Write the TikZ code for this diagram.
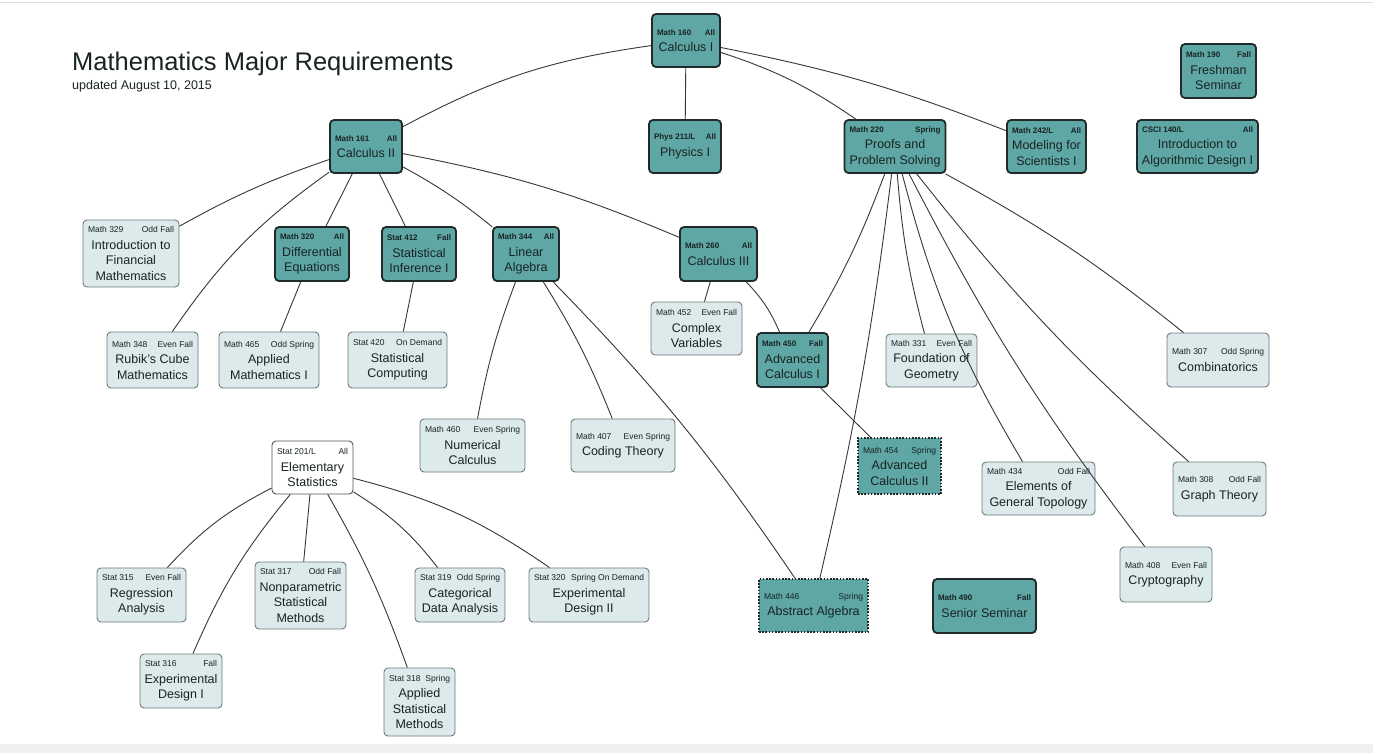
\documentclass[tikz,border=0pt]{standalone}
\usepackage{fontspec}
\setmainfont{Liberation Sans}
\definecolor{teal1}{RGB}{94,167,165}
\definecolor{tealedge}{RGB}{32,42,42}
\definecolor{lightfill}{RGB}{220,234,236}
\definecolor{lightedge}{RGB}{110,122,124}
\definecolor{linkc}{RGB}{55,55,55}
\definecolor{txt}{RGB}{25,35,35}
\newcommand{\hdb}[2]{{\fontsize{8}{9}\selectfont\bfseries\hbox to\dimexpr\pgfshapeminwidth-10pt\relax{#1\hfil#2}}\\[1pt]}
\newcommand{\hdr}[2]{{\fontsize{8.5}{9}\selectfont\hbox to\dimexpr\pgfshapeminwidth-10pt\relax{#1\hfil#2}}\\[1pt]}
\begin{document}
\begin{tikzpicture}[x=1pt,y=-1pt,
  box/.style={rounded corners=4pt,align=center,inner xsep=3pt,inner ysep=2pt,
    font=\fontsize{12.5}{15.5}\selectfont,text=txt},
  req/.style={box,fill=teal1,draw=tealedge,line width=1.8pt},
  opt/.style={box,fill=lightfill,draw=lightedge,line width=0.9pt},
  wht/.style={box,fill=white,draw=lightedge!70!black,line width=0.9pt},
  dot/.style={box,fill=teal1,draw=tealedge,line width=1.6pt,dash pattern=on 1.6pt off 1.6pt,rounded corners=0pt},
  link/.style={draw=linkc,line width=0.9pt}]
\useasboundingbox (0,0) rectangle (1373,753);
\fill[white] (0,0) rectangle (1373,753);
\draw[gray!25,line width=1pt] (0,2.5) -- (1373,2.5);
\fill[gray!12] (0,744) rectangle (1373,753);
\node[anchor=base west,inner sep=0pt,font=\fontsize{25.5}{28}\selectfont,text=txt] (title) at (72,70) {Mathematics Major Requirements};
\node[anchor=base west,inner sep=0pt,font=\fontsize{12.5}{14}\selectfont,text=txt] (upd) at (72,89) {updated August 10, 2015};
% nodes
\node[req,minimum width=68pt,minimum height=53pt] (calcI) at (686,40.5) {\hdb{Math 160}{All}Calculus I};
\node[req,minimum width=72pt,minimum height=53pt] (calcII) at (366,146.5) {\hdb{Math 161}{All}Calculus II};
\node[req,minimum width=72pt,minimum height=53pt] (phys) at (685,146.5) {\hdb{Phys 211/L}{All}Physics I};
\node[req,minimum width=101pt,minimum height=53pt] (proofs) at (895,146.5) {\hdb{Math 220}{Spring}Proofs and\\Problem Solving};
\node[req,minimum width=79pt,minimum height=53pt] (model) at (1046.5,146.5) {\hdb{Math 242/L}{All}Modeling for\\Scientists I};
\node[req,minimum width=121pt,minimum height=53pt] (csci) at (1197.5,146.5) {\hdb{CSCI 140/L}{All}Introduction to\\Algorithmic Design I};
\node[req,minimum width=75pt,minimum height=54pt] (fresh) at (1218.5,71) {\hdb{Math 190}{Fall}Freshman\\Seminar};
\node[opt,minimum width=96pt,minimum height=67pt] (m329) at (131,253.5) {\hdr{Math 329}{Odd Fall}Introduction to\\Financial\\Mathematics};
\node[req,minimum width=74pt,minimum height=54pt] (m320) at (312,254) {\hdb{Math 320}{All}Differential\\Equations};
\node[req,minimum width=74pt,minimum height=54pt] (s412) at (419,254) {\hdb{Stat 412}{Fall}Statistical\\Inference I};
\node[req,minimum width=66pt,minimum height=54pt] (m344) at (526,254) {\hdb{Math 344}{All}Linear\\Algebra};
\node[req,minimum width=77pt,minimum height=54pt] (m260) at (718.5,254) {\hdb{Math 260}{All}Calculus III};
\node[opt,minimum width=91pt,minimum height=53pt] (m452) at (696.5,328.5) {\hdr{Math 452}{Even Fall}Complex\\Variables};
\node[req,minimum width=71pt,minimum height=54pt] (m450) at (792.5,360) {\hdb{Math 450}{Fall}Advanced\\Calculus I};
\node[opt,minimum width=91pt,minimum height=53pt] (m331) at (931.5,360.5) {\hdr{Math 331}{Even Fall}Foundation of\\Geometry};
\node[opt,minimum width=102pt,minimum height=54pt] (m307) at (1218,360) {\hdr{Math 307}{Odd Spring}Combinatorics};
\node[opt,minimum width=91pt,minimum height=56pt] (m348) at (152.5,360) {\hdr{Math 348}{Even Fall}Rubik's Cube\\Mathematics};
\node[opt,minimum width=100pt,minimum height=56pt] (m465) at (269,360) {\hdr{Math 465}{Odd Spring}Applied\\Mathematics I};
\node[opt,minimum width=99pt,minimum height=56pt] (s420) at (397.5,360) {\hdr{Stat 420}{On Demand}Statistical\\Computing};
\node[opt,minimum width=105pt,minimum height=53pt] (m460) at (472.5,445.5) {\hdr{Math 460}{Even Spring}Numerical\\Calculus};
\node[opt,minimum width=104pt,minimum height=53pt] (m407) at (623,445.5) {\hdr{Math 407}{Even Spring}Coding Theory};
\node[wht,minimum width=81pt,minimum height=53pt] (s201) at (312.5,467.5) {\hdr{Stat 201/L}{All}Elementary\\Statistics};
\node[dot,minimum width=83pt,minimum height=56pt] (m454) at (899.5,466) {\hdr{Math 454}{Spring}Advanced\\Calculus II};
\node[opt,minimum width=113pt,minimum height=53pt] (m434) at (1038.5,488.5) {\hdr{Math 434}{Odd Fall}Elements of\\General Topology};
\node[opt,minimum width=93pt,minimum height=54pt] (m308) at (1219.5,489) {\hdr{Math 308}{Odd Fall}Graph Theory};
\node[opt,minimum width=92pt,minimum height=55pt] (m408) at (1166,574.5) {\hdr{Math 408}{Even Fall}Cryptography};
\node[opt,minimum width=89pt,minimum height=54pt] (s315) at (141.5,595) {\hdr{Stat 315}{Even Fall}Regression\\Analysis};
\node[opt,minimum width=91pt,minimum height=67pt] (s317) at (300.5,595.5) {\hdr{Stat 317}{Odd Fall}Nonparametric\\Statistical\\Methods};
\node[opt,minimum width=90pt,minimum height=54pt] (s319) at (460,595) {\hdr{Stat 319}{Odd Spring}Categorical\\Data Analysis};
\node[opt,minimum width=120pt,minimum height=54pt] (s320) at (589,595) {\hdr{Stat 320}{Spring On Demand}Experimental\\Design II};
\node[opt,minimum width=82pt,minimum height=54pt] (s316) at (181,681) {\hdr{Stat 316}{Fall}Experimental\\Design I};
\node[opt,minimum width=71pt,minimum height=68pt] (s318) at (419.5,702) {\hdr{Stat 318}{Spring}Applied\\Statistical\\Methods};
\node[dot,minimum width=109pt,minimum height=53pt] (m446) at (813.5,605.5) {\hdr{Math 446}{Spring}Abstract Algebra};
\node[req,minimum width=103pt,minimum height=54pt] (m490) at (984.5,606) {\hdb{Math 490}{Fall}Senior Seminar};
% links
\path[link] (calcI) to[bend right=10] (calcII);
\path[link] (calcI) -- (phys);
\path[link] (calcI) to[bend left=8] (proofs);
\path[link] (calcI) to[bend left=5] (model);
\path[link] (calcII) to[bend right=5] (m329);
\path[link] (calcII) to[bend right=10] (m348);
\path[link] (calcII) -- (m320);
\path[link] (calcII) -- (s412);
\path[link] (calcII) to[bend left=5] (m344);
\path[link] (calcII) to[bend left=6] (m260);
\path[link] (m320) -- (m465);
\path[link] (s412) -- (s420);
\path[link] (m344) to[bend right=5] (m460);
\path[link] (m344) to[bend left=5] (m407);
\path[link] (m344) to[bend left=5] (m446);
\path[link] (m260) -- (m452);
\path[link] (m260) to[bend left=10] (m450);
\path[link] (proofs) to[bend left=5] (m450);
\path[link] (proofs) to[bend left=3] (m446);
\path[link] (proofs) to[bend right=5] (m331);
\path[link] (proofs) to[bend right=8] (m434);
\path[link] (proofs) to[bend right=5] (m408);
\path[link] (proofs) to[bend right=5] (m308);
\path[link] (proofs) to[bend left=5] (m307);
\path[link] (m450) -- (m454);
\path[link] (s201) to[bend right=10] (s315);
\path[link] (s201) to[bend right=8] (s316);
\path[link] (s201) -- (s317);
\path[link] (s201) to[bend left=5] (s318);
\path[link] (s201) to[bend left=10] (s319);
\path[link] (s201) to[bend left=10] (s320);
\end{tikzpicture}
\end{document}
